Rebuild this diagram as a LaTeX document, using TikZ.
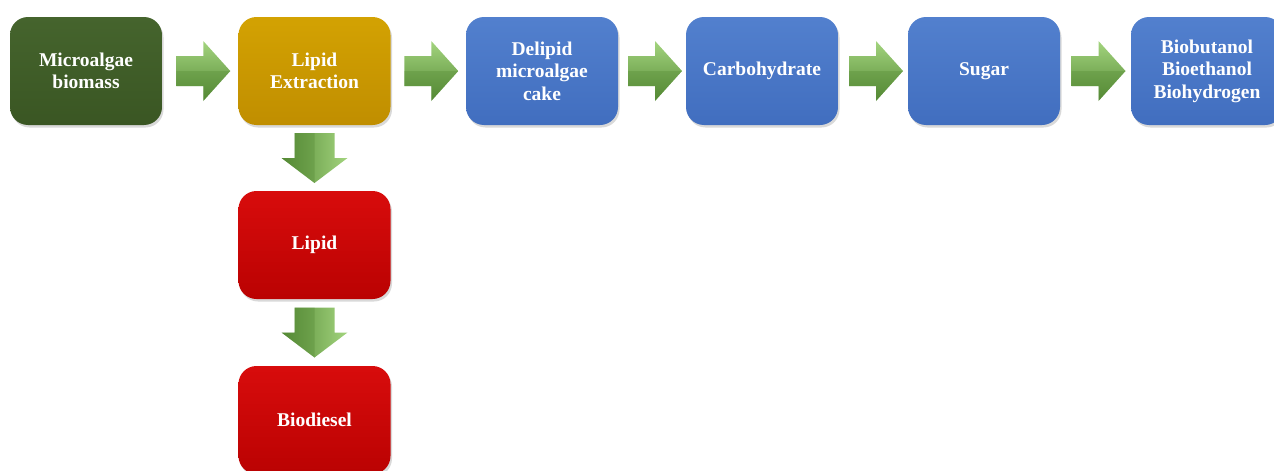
\documentclass[tikz,border=0pt]{standalone}
\usepackage{fontspec}
\setmainfont{Liberation Serif}
\usetikzlibrary{shadows,calc}
\definecolor{gtop}{HTML}{45642D}
\definecolor{gbot}{HTML}{3A5623}
\definecolor{ytop}{HTML}{D3A202}
\definecolor{ybot}{HTML}{C08E00}
\definecolor{btop}{HTML}{5280CE}
\definecolor{bbot}{HTML}{416EBF}
\definecolor{rtop}{HTML}{D80C0C}
\definecolor{rbot}{HTML}{BA0202}
\definecolor{alight}{HTML}{A3D47E}
\definecolor{adark}{HTML}{558A35}
\begin{document}
\begin{tikzpicture}[x=1pt,y=-1pt,
  box/.style={rounded corners=18pt, minimum width=152pt, minimum height=108pt,
    align=center, text=white, inner sep=0pt,
    font=\fontsize{19.5}{22.5}\selectfont\bfseries,
    drop shadow={opacity=0.3, shadow xshift=1.5pt, shadow yshift=-2.5pt}},
  greenbox/.style={box, top color=gtop, bottom color=gbot},
  goldbox/.style={box, top color=ytop, bottom color=ybot},
  bluebox/.style={box, top color=btop, bottom color=bbot},
  redbox/.style={box, top color=rtop, bottom color=rbot},
  harr/.pic={
    \path[top color=alight, bottom color=adark]
      (-27,-15) -- (0,-15) -- (0,-30) -- (27,0) -- (0,30) -- (0,15) -- (-27,15) -- cycle;
    \path[fill=adark, opacity=0.35] (0,0) -- (27,0) -- (0,30) -- (0,15) -- (-27,15) -- (-27,0) -- cycle;
  },
  varr/.pic={
    \path[left color=adark, right color=alight]
      (-20,-25) -- (20,-25) -- (20,0) -- (33,0) -- (0,25) -- (-33,0) -- (-20,0) -- cycle;
    \path[fill=adark, opacity=0.35] (-20,-25) -- (0,-25) -- (0,25) -- (-33,0) -- (-20,0) -- cycle;
  }
]
\useasboundingbox (0,0) rectangle (1274,471);
\node[greenbox] (mb) at (86,71) {Microalgae\\biomass};
\node[goldbox] (le) at (314.5,71) {Lipid\\Extraction};
\node[bluebox] (dc) at (542,71) {Delipid\\microalgae\\cake};
\node[bluebox] (ch) at (762,71) {Carbohydrate};
\node[bluebox] (sg) at (984,71) {Sugar};
\node[bluebox] (bf) at (1207,71) {Biobutanol\\Bioethanol\\Biohydrogen};
\node[redbox] (lp) at (314.5,245) {Lipid};
\node[redbox] (bd) at (314.5,420) {Biodiesel};
\pic at ($(mb.east)!0.5!(le.west)+(3,0)$) {harr};
\pic at ($(le.east)!0.5!(dc.west)+(3,0)$) {harr};
\pic at ($(dc.east)!0.5!(ch.west)+(3,0)$) {harr};
\pic at ($(ch.east)!0.5!(sg.west)+(3,0)$) {harr};
\pic at ($(sg.east)!0.5!(bf.west)+(3,0)$) {harr};
\pic at ($(le.south)!0.5!(lp.north)$) {varr};
\pic at ($(lp.south)!0.5!(bd.north)$) {varr};
\end{tikzpicture}
\end{document}
